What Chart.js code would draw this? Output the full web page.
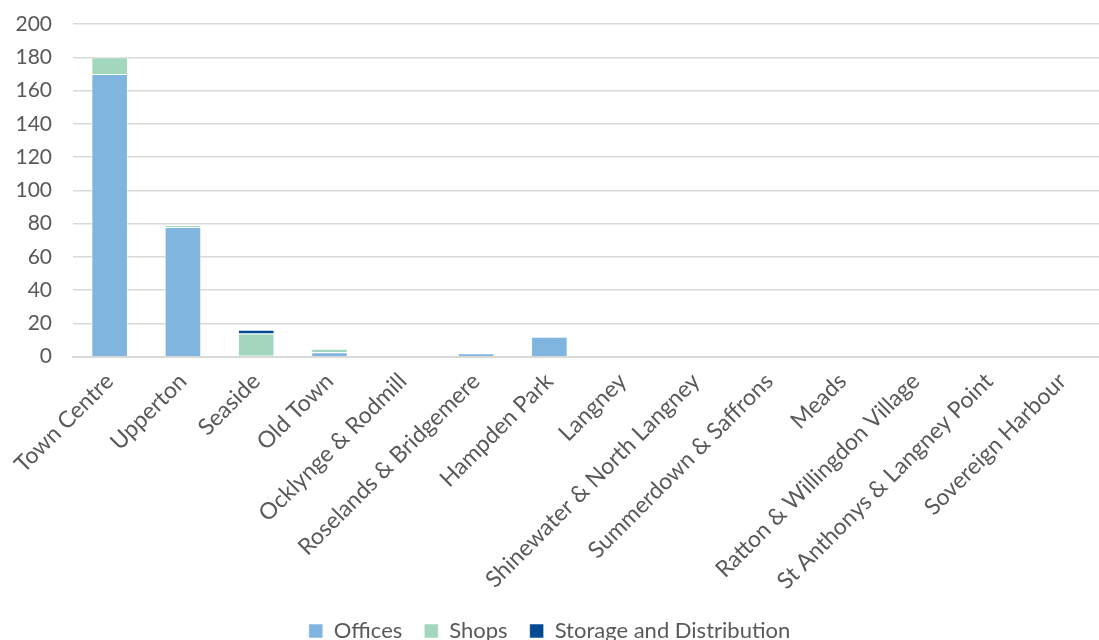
<!DOCTYPE html>
<html>
<head>
<meta charset="utf-8">
<script src="https://cdn.jsdelivr.net/npm/chart.js@4"></script>
<style>
  html, body { margin: 0; padding: 0; background: #fff; overflow: hidden; }
  #wrap { width: 1099px; height: 652px; position: relative; }
</style>
</head>
<body>
<div id="wrap"><canvas id="floorspace"></canvas></div>
<script>
const ctxFloor = document.getElementById('floorspace').getContext('2d')

const areas = [
  'Town Centre', 'Upperton', 'Seaside', 'Old Town', 'Ocklynge & Rodmill',
  'Roselands & Bridgemere', 'Hampden Park', 'Langney',
  'Shinewater & North Langney', 'Summerdown & Saffrons', 'Meads',
  'Ratton & Willingdon Village', 'St Anthonys & Langney Point', 'Sovereign Harbour',
]
const offices = [170, 78, 0.5, 2.6, 0, 2, 12, 0, 0, 0, 0, 0, 0, 0]
const shops = [10, 1, 13.5, 2.2, 0, 0, 0, 0, 0, 0, 0, 0, 0, 0]
const storage = [0, 0, 2.2, 0, 0, 0, 0, 0, 0, 0, 0, 0, 0, 0]
const yTicks = [0, 20, 40, 60, 80, 100, 120, 140, 160, 180, 200]

const TEXT_GREY = '#595959'
const FONT = 'Lato, "Open Sans", sans-serif'

const dataFloor = {
  labels: areas,
  datasets: [
    { label: 'Offices', data: offices, backgroundColor: '#80B5E0' },
    { label: 'Shops', data: shops, backgroundColor: '#A3D7BD' },
    { label: 'Storage and Distribution', data: storage, backgroundColor: '#034A92' },
  ].map(d => ({
    ...d,
    borderColor: 'rgba(255,255,255,0.5)',
    borderWidth: 1,
    barPercentage: 0.5,
    categoryPercentage: 1,
  })),
}

const configFloor = {
  type: 'bar',
  data: dataFloor,
  options: {
    responsive: true,
    maintainAspectRatio: false,
    animation: false,
    layout: { padding: { left: 0, right: 0, top: 24, bottom: 0 } },
    plugins: {
      tooltip: { enabled: false },
      legend: {
        position: 'bottom',
        labels: {
          color: TEXT_GREY,
          font: { family: FONT, size: 22 },
          boxWidth: 14,
          boxHeight: 14,
          padding: 22,
        },
      },
    },
    scales: {
      x: {
        stacked: true,
        grid: { display: false },
        border: { color: '#d9d9d9', width: 2 },
        afterFit: s => { s.paddingLeft = 0 },
        ticks: {
          color: TEXT_GREY,
          font: { family: FONT, size: 23 },
          minRotation: 45,
          maxRotation: 45,
          autoSkip: false,
          padding: 3,
        },
      },
      y: {
        stacked: true,
        min: 0,
        max: 200,
        afterBuildTicks: axis => {
          axis.ticks = yTicks.map(v => ({ value: v }))
        },
        afterFit: s => { s.width = 73; s.paddingTop = 0 },
        grid: { color: '#d9d9d9', lineWidth: 1.5, drawTicks: false },
        border: { display: false },
        ticks: {
          color: TEXT_GREY,
          font: { family: FONT, size: 21 },
          padding: 21,
        },
      },
    },
  },
}
const floorChart = new Chart(ctxFloor, configFloor)
</script>
</body>
</html>
